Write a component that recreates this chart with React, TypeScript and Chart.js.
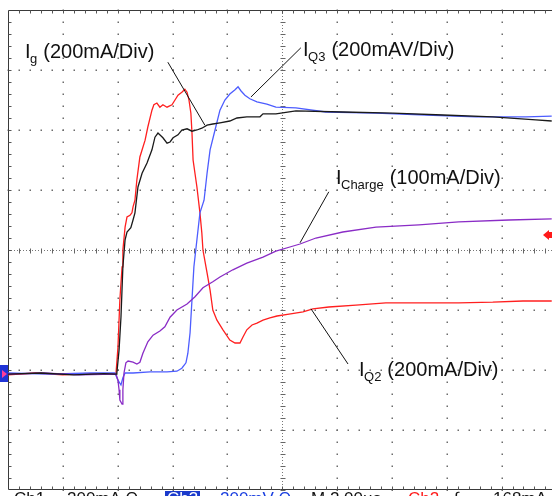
import React, { useEffect, useRef } from "react";
import { Chart, registerables } from "chart.js";

Chart.register(...registerables);

// Time axis in µs (2 µs/div), vertical axis in screen divisions (-4 .. 4)
const TIME_PER_DIV = 2;
const X_MIN = 0;
const X_MAX = 19.84;
const Y_MIN = -4;
const Y_MAX = 4;

// I_Q2 (red)
const iq2: [number, number][] = [
  [0, -2.08], [1.0, -2.05], [2.0, -2.08], [3.0, -2.06], [3.9, -2.07], [3.94, -2.05],
  [4.01, -1.62], [4.08, -0.83], [4.16, -0.28], [4.19, 0], [4.27, 0.38], [4.34, 0.55],
  [4.45, 0.58], [4.52, 0.62], [4.56, 0.72], [4.63, 0.83], [4.7, 1.17], [4.81, 1.55],
  [5.0, 1.83], [5.1, 2.05], [5.25, 2.33], [5.32, 2.42], [5.43, 2.45], [5.54, 2.38],
  [5.65, 2.42], [5.8, 2.38], [5.98, 2.42], [6.09, 2.5], [6.2, 2.58], [6.34, 2.63],
  [6.45, 2.68], [6.53, 2.63], [6.6, 2.5], [6.67, 2.28], [6.71, 1.95], [6.75, 1.5],
  [6.89, 1.05], [7.0, 0.62], [7.07, 0.28], [7.11, 0], [7.26, -0.38], [7.37, -0.67],
  [7.47, -1.0], [7.62, -1.17], [7.84, -1.33], [8.09, -1.5], [8.28, -1.55], [8.46, -1.55],
  [8.57, -1.45], [8.71, -1.33], [8.9, -1.25], [9.08, -1.22], [9.3, -1.17], [9.55, -1.13],
  [9.81, -1.1], [10.25, -1.07], [10.76, -1.03], [11.12, -0.98], [11.7, -0.95], [12.69, -0.92],
  [13.78, -0.88], [15.24, -0.88], [16.44, -0.88], [17.68, -0.87], [18.78, -0.85], [19.83, -0.85],
];

// I_g (black)
const ig: [number, number][] = [
  [0, -2.07], [1.2, -2.05], [2.4, -2.08], [3.5, -2.06], [3.94, -2.07], [3.97, -2.05],
  [4.05, -1.67], [4.12, -1.12], [4.19, -0.28], [4.27, 0.17], [4.34, 0.3], [4.48, 0.37],
  [4.56, 0.5], [4.63, 0.62], [4.74, 1.05], [4.89, 1.28], [5.07, 1.45], [5.25, 1.67],
  [5.36, 1.88], [5.47, 1.95], [5.65, 1.87], [5.8, 1.78], [5.91, 1.8], [6.02, 1.87],
  [6.2, 1.92], [6.34, 2.0], [6.53, 2.02], [6.71, 1.98], [6.89, 2.0], [7.07, 2.03],
  [7.26, 2.08], [7.47, 2.1], [7.73, 2.12], [8.09, 2.15], [8.35, 2.2], [8.71, 2.22],
  [9.19, 2.22], [9.3, 2.27], [9.77, 2.27], [10.5, 2.32], [12.21, 2.3], [14.04, 2.28],
  [15.86, 2.25], [17.68, 2.22], [19.25, 2.17], [19.83, 2.15],
];

// I_Q3 (blue)
const iq3: [number, number][] = [
  [0, -2.05], [1.5, -2.07], [3.0, -2.05], [3.9, -2.05], [4.01, -2.17], [4.12, -2.25],
  [4.19, -2.13], [4.27, -2.05], [4.56, -2.05], [5.18, -2.03], [5.8, -2.03], [6.16, -2.02],
  [6.34, -1.97], [6.49, -1.88], [6.56, -1.72], [6.64, -1.38], [6.71, -0.83], [6.78, -0.28],
  [6.89, 0.17], [7.0, 0.62], [7.15, 0.83], [7.26, 1.28], [7.37, 1.67], [7.55, 2.0],
  [7.73, 2.33], [7.91, 2.5], [8.09, 2.6], [8.28, 2.67], [8.39, 2.72], [8.5, 2.65],
  [8.64, 2.58], [8.82, 2.52], [9.08, 2.47], [9.44, 2.43], [9.77, 2.38], [10.5, 2.37],
  [11.59, 2.3], [13.42, 2.28], [15.24, 2.25], [17.06, 2.22], [18.89, 2.22], [19.83, 2.23],
];

// I_Charge (purple)
const icharge: [number, number][] = [
  [0, -2.07], [1.3, -2.05], [2.6, -2.08], [3.94, -2.07], [4.01, -2.17], [4.05, -2.33],
  [4.08, -2.5], [4.16, -2.57], [4.19, -2.33], [4.23, -2.05], [4.3, -1.88], [4.38, -1.85],
  [4.56, -1.87], [4.7, -1.9], [4.81, -1.87], [4.92, -1.72], [5.1, -1.53], [5.29, -1.42],
  [5.54, -1.35], [5.72, -1.28], [5.91, -1.12], [6.16, -1.0], [6.53, -0.9], [6.82, -0.78],
  [7.11, -0.63], [7.47, -0.53], [7.73, -0.45], [8.2, -0.33], [8.71, -0.22], [9.3, -0.12],
  [9.77, -0.02], [10.28, 0.05], [10.65, 0.1], [11.23, 0.2], [12.21, 0.3], [13.42, 0.38],
  [14.99, 0.42], [16.44, 0.47], [18.27, 0.5], [19.83, 0.52],
];

// Trace labels: main letter, subscript, rest, anchor (µs, div)
const labelMain = ["I", "I", "I", "I"];
const labelSub = ["g", "Q3", "Charge", "Q2"];
const labelRest = ["(200mA/Div)", "(200mAV/Div)", "(100mA/Div)", "(200mA/Div)"];
const labelT = [0.62, 10.76, 11.96, 12.8];
const labelV = [3.2, 3.23, 1.1, -2.1];

// Leader lines [t1, v1, t2, v2]
const leaders: [number, number, number, number][] = [
  [5.83, 3.13, 7.18, 2.08],
  [10.68, 3.37, 8.86, 2.55],
  [11.7, 0.97, 10.65, 0.12],
  [12.4, -1.9, 11.05, -0.98],
];

const GROUND_LEVEL = -2.07;
const TRIGGER_LEVEL = 0.25;

// Status line (readout)
const statusText = ["Ch1", "200mA Ω", "Ch3", "200mV Ω", "M 2.00µs", "Ch2", "∫", "168mA"];
const statusColor = ["#111", "#111", "#fff", "#1a3fe0", "#111", "#ff1a1a", "#111", "#111"];
const statusX = [14, 67, 167, 220, 311, 408, 454, 493];

const toXY = (arr: [number, number][]) => arr.map(([x, y]) => ({ x, y }));

const FONT = '"Liberation Sans", Arial, sans-serif';

const scopePlugin = {
  id: "scope",
  beforeDatasetsDraw(chart: any) {
    const { ctx, chartArea: ca, scales } = chart;
    const xs = scales.x;
    const ys = scales.y;
    const px = (t: number) => xs.getPixelForValue(t);
    const py = (v: number) => ys.getPixelForValue(v);
    const nDiv = 10;
    ctx.save();
    ctx.fillStyle = "#6c6c6c";
    // dotted major grid
    for (let k = 1; k < nDiv; k++) {
      if (k === 5) continue;
      const X = Math.round(px(k * TIME_PER_DIV));
      for (let m = -20; m <= 20; m++) {
        const Y = Math.round(py(m * 0.2));
        ctx.fillRect(X - 0.5, Y - 0.5, 1.5, 1.5);
      }
    }
    for (let j = Y_MIN + 1; j < Y_MAX; j++) {
      if (j === 0) continue;
      const Y = Math.round(py(j));
      for (let m = 0; m <= 50; m++) {
        const X = Math.round(px(m * TIME_PER_DIV / 5));
        ctx.fillRect(X - 0.5, Y - 0.5, 1.5, 1.5);
      }
    }
    // center lines
    const cx = Math.round(px(5 * TIME_PER_DIV)) + 0.5;
    const cy = Math.round(py(0)) + 0.5;
    ctx.strokeStyle = "#777";
    ctx.lineWidth = 1;
    ctx.setLineDash([1, 2]);
    ctx.beginPath();
    ctx.moveTo(cx, ca.top);
    ctx.lineTo(cx, ca.bottom);
    ctx.moveTo(ca.left, cy);
    ctx.lineTo(ca.right, cy);
    ctx.stroke();
    ctx.setLineDash([]);
    ctx.strokeStyle = "#666";
    ctx.beginPath();
    for (let m = -20; m <= 20; m++) {
      const Y = Math.round(py(m * 0.2)) + 0.5;
      ctx.moveTo(cx - 2, Y);
      ctx.lineTo(cx + 3, Y);
    }
    for (let m = 0; m <= 50; m++) {
      const X = Math.round(px(m * TIME_PER_DIV / 5)) + 0.5;
      ctx.moveTo(X, cy - 2);
      ctx.lineTo(X, cy + 3);
    }
    ctx.stroke();
    // border
    ctx.strokeStyle = "#3a3a3a";
    ctx.lineWidth = 1;
    const L = Math.round(ca.left) + 0.5;
    const T = Math.round(ca.top) + 0.5;
    const B = Math.round(ca.bottom) - 0.5;
    ctx.beginPath();
    ctx.moveTo(L, T);
    ctx.lineTo(ca.right, T);
    ctx.moveTo(L, T);
    ctx.lineTo(L, B);
    ctx.moveTo(L, B);
    ctx.lineTo(ca.right, B);
    ctx.stroke();
    ctx.strokeStyle = "#555";
    ctx.beginPath();
    for (let m = 1; m <= 50; m++) {
      const X = Math.round(px(m * TIME_PER_DIV / 5)) + 0.5;
      ctx.moveTo(X, T);
      ctx.lineTo(X, T + 3);
      ctx.moveTo(X, B);
      ctx.lineTo(X, B - 3);
    }
    for (let m = -19; m <= 19; m++) {
      const Y = Math.round(py(m * 0.2)) + 0.5;
      ctx.moveTo(L, Y);
      ctx.lineTo(L + 3, Y);
    }
    ctx.stroke();
    ctx.restore();
  },
  afterDatasetsDraw(chart: any) {
    const { ctx, chartArea: ca, scales } = chart;
    const px = (t: number) => scales.x.getPixelForValue(t);
    const py = (v: number) => scales.y.getPixelForValue(v);
    ctx.save();
    // leader lines
    ctx.strokeStyle = "#111";
    ctx.lineWidth = 1;
    ctx.beginPath();
    leaders.forEach(([t1, v1, t2, v2]) => {
      ctx.moveTo(px(t1), py(v1));
      ctx.lineTo(px(t2), py(v2));
    });
    ctx.stroke();
    // labels
    ctx.fillStyle = "#111";
    ctx.textBaseline = "alphabetic";
    ctx.textAlign = "left";
    labelMain.forEach((m, i) => {
      let x = px(labelT[i]);
      const y = py(labelV[i]);
      ctx.font = `20px ${FONT}`;
      ctx.fillText(m, x, y);
      x += ctx.measureText(m).width - 0.5;
      ctx.font = `13px ${FONT}`;
      ctx.fillText(labelSub[i], x, y + 5);
      x += ctx.measureText(labelSub[i]).width + 6;
      ctx.font = `20px ${FONT}`;
      ctx.fillText(labelRest[i], x, y);
    });
    // ground marker (left)
    const gy = Math.round(py(GROUND_LEVEL));
    ctx.fillStyle = "#1f33d6";
    ctx.fillRect(0, gy - 9, Math.round(ca.left), 17);
    ctx.fillStyle = "#ff3d9a";
    ctx.beginPath();
    ctx.moveTo(2, gy - 4);
    ctx.lineTo(7, gy);
    ctx.lineTo(2, gy + 4);
    ctx.closePath();
    ctx.fill();
    // trigger marker (right)
    const ty = Math.round(py(TRIGGER_LEVEL));
    ctx.fillStyle = "#ff1a1a";
    ctx.beginPath();
    ctx.moveTo(ca.right - 9, ty);
    ctx.lineTo(ca.right - 3, ty - 5);
    ctx.lineTo(ca.right - 3, ty + 5);
    ctx.closePath();
    ctx.fill();
    ctx.fillRect(ca.right - 3, ty - 3, 3, 6);
    // status line
    const sy = chart.height + 8;
    ctx.fillStyle = "#1a3acc";
    ctx.fillRect(165, Math.round(ca.bottom) + 1, 35, 12);
    ctx.font = `17px ${FONT}`;
    statusText.forEach((s, i) => {
      ctx.fillStyle = statusColor[i];
      ctx.fillText(s, statusX[i], sy);
    });
    ctx.restore();
  },
};

export default function App() {
  const ref = useRef<HTMLCanvasElement>(null);
  useEffect(() => {
    if (!ref.current) return;
    const common = {
      showLine: true,
      pointRadius: 0,
      borderWidth: 1.3,
      tension: 0,
      fill: false,
    };
    const chart = new Chart(ref.current, {
      type: "scatter",
      data: {
        datasets: [
          { ...common, label: "Ig", data: toXY(ig), borderColor: "#1a1a1a" },
          { ...common, label: "ICharge", data: toXY(icharge), borderColor: "#8a2cc6" },
          { ...common, label: "IQ3", data: toXY(iq3), borderColor: "#4d5dff" },
          { ...common, label: "IQ2", data: toXY(iq2), borderColor: "#ff1f1f" },
        ],
      },
      options: {
        animation: false,
        responsive: false,
        events: [],
        layout: { padding: { left: 8, top: 10, right: 0, bottom: 6 } },
        plugins: { legend: { display: false }, tooltip: { enabled: false } },
        scales: {
          x: { type: "linear", min: X_MIN, max: X_MAX, display: false },
          y: { type: "linear", min: Y_MIN, max: Y_MAX, display: false },
        },
      },
      plugins: [scopePlugin],
    });
    return () => chart.destroy();
  }, []);
  return (
    <div style={{ position: "fixed", left: 0, top: 0, width: 552, height: 496, background: "#fff", overflow: "hidden" }}>
      <canvas ref={ref} width={552} height={496} style={{ display: "block" }} />
    </div>
  );
}
